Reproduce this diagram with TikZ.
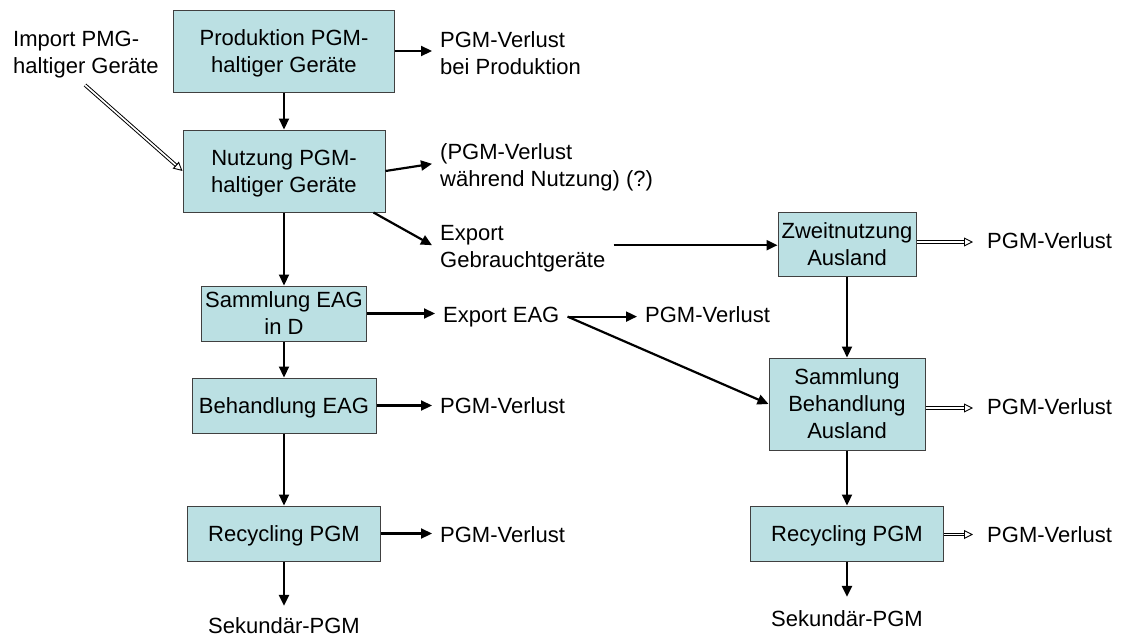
\documentclass[tikz,border=0pt]{standalone}
\usepackage{fontspec}
\setmainfont{Liberation Sans}
\usetikzlibrary{arrows.meta}
\definecolor{boxfill}{RGB}{187,224,227}

\begin{document}
\begin{tikzpicture}[x=1pt, y=-1pt,
  font=\fontsize{22}{27}\selectfont,
  proc/.style={draw=black!75, line width=1pt, fill=boxfill, inner sep=0pt,
    text depth=0pt, align=center},
  lbl/.style={inner xsep=8pt, inner ysep=0pt, align=left},
  flow/.style={line width=2.2pt, -{Triangle[length=11pt,width=10pt]}},
  dflow/.style={draw=white, line width=1pt,
    -{Triangle[open,length=9pt,width=9pt,line width=0.9pt,color=black]},
    preaction={draw=black, arrows=-, double=white, double distance=1.6pt,
      line width=1pt, shorten >=8pt}}
]
\useasboundingbox (0,0) rectangle (1122,637);
\fill[white] (0,0) rectangle (1122,637);

% process boxes, main chain
\node[proc, minimum width=221pt, minimum height=82pt] (prod) at (284,51) {Produktion PGM-\\haltiger Geräte};
\node[proc, minimum width=202pt, minimum height=82pt] (nutz) at (284,171) {Nutzung PGM-\\haltiger Geräte};
\node[proc, minimum width=165pt, minimum height=55pt] (samm) at (284,313.5) {Sammlung EAG\\in D};
\node[proc, minimum width=184pt, minimum height=55pt] (beh) at (284,405.5) {Behandlung EAG};
\node[proc, minimum width=193pt, minimum height=55pt] (rec) at (284,533.5) {Recycling PGM};

% process boxes, abroad
\node[proc, minimum width=138pt, minimum height=64pt] (zweit) at (847,244) {Zweitnutzung\\Ausland};
\node[proc, minimum width=156pt, minimum height=92pt] (sba) at (847,404) {Sammlung\\Behandlung\\Ausland};
\node[proc, minimum width=193pt, minimum height=55pt] (rec2) at (847,533.5) {Recycling PGM};

% text labels (base anchor = baseline of the last line)
\node[lbl, anchor=base west] (imp) at (5,73) {Import PMG-\\haltiger Geräte};
\node[lbl, anchor=base west] (v1) at (432,74) {PGM-Verlust\\bei Produktion};
\node[lbl, anchor=base west] (v2) at (432,186) {(PGM-Verlust\\während Nutzung) (?)};
\node[lbl, anchor=base west] (exg) at (432,267) {Export\\Gebrauchtgeräte};
\node[lbl, anchor=base west] (eag) at (435,322) {Export EAG};
\node[lbl, anchor=base west] (v3) at (637,322) {PGM-Verlust};
\node[lbl, anchor=base west] (v4) at (432,413) {PGM-Verlust};
\node[lbl, anchor=base west] (v5) at (432,542) {PGM-Verlust};
\node[lbl, inner xsep=14pt, anchor=base west] (vz) at (973,248) {PGM-Verlust};
\node[lbl, inner xsep=14pt, anchor=base west] (vs) at (973,414) {PGM-Verlust};
\node[lbl, inner xsep=14pt, anchor=base west] (vr) at (973,542) {PGM-Verlust};
\node[lbl, inner ysep=11pt, anchor=base] (sek1) at (284,633) {Sekundär-PGM};
\node[lbl, inner ysep=13pt, anchor=base] (sek2) at (847,626) {Sekundär-PGM};

\coordinate (impstart) at (85,85);

% main chain
\draw[flow] (prod) -- (nutz);
\draw[flow] (nutz) -- (samm);
\draw[flow] (samm) -- (beh);
\draw[flow] (beh) -- (rec);
\draw[flow] (rec) -- (sek1);

% losses and exports
\draw[flow] (prod.east) -- (v1.west |- prod.east);
\draw[flow] (nutz.east) -- ([yshift=3pt]v2.west);
\draw[flow] ([xshift=-12pt]nutz.south east) -- ([yshift=3pt]exg.west);
\draw[flow] ([yshift=3pt]exg.east) -- ([yshift=3pt]exg.east -| zweit.west);
\draw[flow] (samm.east) -- (eag.west |- samm.east);
\draw[flow] (eag.east) -- (v3.west |- eag.east);
\draw[flow] (eag.east) -- (sba.west);
\draw[flow] (beh.east) -- (v4.west |- beh.east);
\draw[flow] (rec.east) -- (v5.west |- rec.east);

% abroad chain
\draw[flow] (zweit) -- (sba);
\draw[flow] (sba) -- (rec2);
\draw[flow] (rec2) -- (sek2);

% import and losses abroad
\draw[dflow] (impstart) -- (nutz.west);
\draw[dflow] ([yshift=2pt]zweit.east) -- ([yshift=2pt]vz.west |- zweit.east);
\draw[dflow] ([yshift=-4pt]sba.east) -- ([yshift=-4pt]vs.west |- sba.east);
\draw[dflow] ([yshift=-1pt]rec2.east) -- ([yshift=-1pt]vr.west |- rec2.east);
\end{tikzpicture}
\end{document}
